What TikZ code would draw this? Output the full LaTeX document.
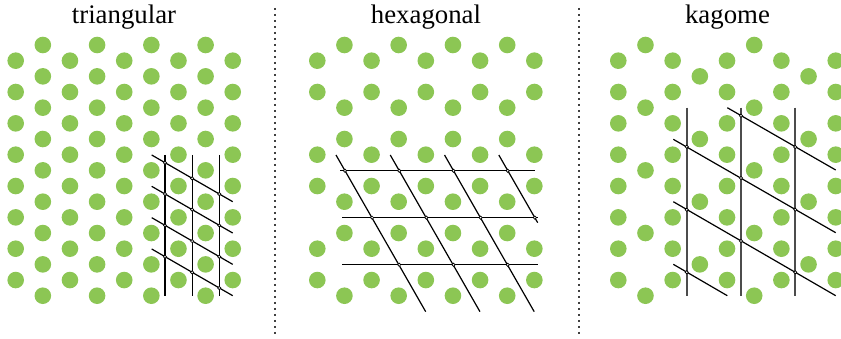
\documentclass[tikz,border=0pt]{standalone}
\usepackage{fontspec}
\setmainfont{Liberation Serif}
\definecolor{dotgreen}{RGB}{140,198,84}
\begin{document}
\begin{tikzpicture}[x=1pt,y=-1pt,
  site/.style={fill=dotgreen},
  gridline/.style={black,line width=1.2pt},
  grayline/.style={black!70,line width=1.7pt},
  crosspt/.style={draw=black,fill=white,line width=0.7pt},
  sepline/.style={black!75,line width=1.3pt,dash pattern=on 2pt off 4pt},
  paneltitle/.style={font=\fontsize{26.8}{30}\selectfont,inner sep=0pt,anchor=base}]
\useasboundingbox (0,0) rectangle (841,339);

% titles
\node[paneltitle] (t1) at (124,24) {triangular};
\node[paneltitle] (t2) at (426,24) {hexagonal};
\node[paneltitle] (t3) at (727.5,24) {kagome};

% separators
\coordinate (s1a) at (275,8); \coordinate (s1b) at (275,336);
\coordinate (s2a) at (579,8); \coordinate (s2b) at (579,336);
\draw[sepline] (s1a) -- (s1b);
\draw[sepline] (s2a) -- (s2b);

% lattices
\foreach \i in {0,...,8}{
  \foreach \m in {0,...,16}{
    \pgfmathtruncatemacro\tok{mod(\i+\m,2)==1}
    \pgfmathtruncatemacro\hok{and(mod(\i+\m,2)==1, not(or(and(mod(\i,2)==0,mod(\m,6)==5),and(mod(\i,2)==1,mod(\m,6)==2))))}
    \pgfmathtruncatemacro\kok{or(and(mod(\i,2)==0,mod(\m,2)==1), or(and(mod(\i,4)==1,mod(\m,4)==0),and(mod(\i,4)==3,mod(\m,4)==2)))}
    \ifnum\tok=1 \fill[site] ({15.7+\i*27.13},{45+\m*15.67}) circle[radius=8.3]; \fi
    \ifnum\hok=1 \fill[site] ({317.3+\i*27.13},{45+\m*15.67}) circle[radius=8.3]; \fi
    \ifnum\kok=1 \fill[site] ({618.3+\i*27.18},{45+\m*15.67}) circle[radius=8.3]; \fi
  }
}

% triangular grid
\foreach \j in {0,1,2}{
  \draw[gridline] ({165+\j*27.13},155) -- ({165+\j*27.13},295.7);
}
\foreach \k in {0,...,3}{
  \draw[gridline] (151.7,{155+\k*31.33}) -- (232.7,{201.7+\k*31.33});
}
\foreach \j in {0,1,2}{
  \foreach \k in {0,...,3}{
    \draw[crosspt] ({165+\j*27.13},{162.7+\j*15.67+\k*31.33}) circle[radius=1.6];
  }
}

% hexagonal grid
\draw[gridline] (340,170.7) -- (535.3,170.7);
\draw[gridline] (342.3,217.7) -- (537.7,217.7);
\draw[gridline] (342.3,264.7) -- (537.7,264.7);
\foreach \k in {0,1,2}{
  \draw[gridline] ({336+\k*54.26},155) -- ({425.7+\k*54.26},311.7);
}
\draw[gridline] (498.8,155) -- (537.7,222.7);
\foreach \k in {0,...,3}{
  \draw[crosspt] ({345+\k*54.26},170.7) circle[radius=1.6];
  \draw[crosspt] ({372.1+\k*54.26},217.7) circle[radius=1.6];
}
\foreach \k in {0,1,2}{
  \draw[crosspt] ({399.2+\k*54.26},264.7) circle[radius=1.6];
}

% kagome grid
\foreach \x in {686.7,741,795.3}{
  \draw[grayline] (\x,107.7) -- (\x,295.7);
}
\draw[gridline] (727.3,107.7) -- (835.7,170);
\draw[gridline] (673.3,139.3) -- (835.7,232.7);
\draw[gridline] (673.3,201.7) -- (835.7,295.7);
\draw[gridline] (673.3,264.3) -- (727.3,295.7);
\foreach \p in {(741,115.7),(795.3,147),(686.7,146.7),(741,178),(795.3,209.7),(686.7,209.7),(741,241),(795.3,272.3),(686.7,272.3)}{
  \draw[crosspt] \p circle[radius=1.6];
}
\end{tikzpicture}
\end{document}
